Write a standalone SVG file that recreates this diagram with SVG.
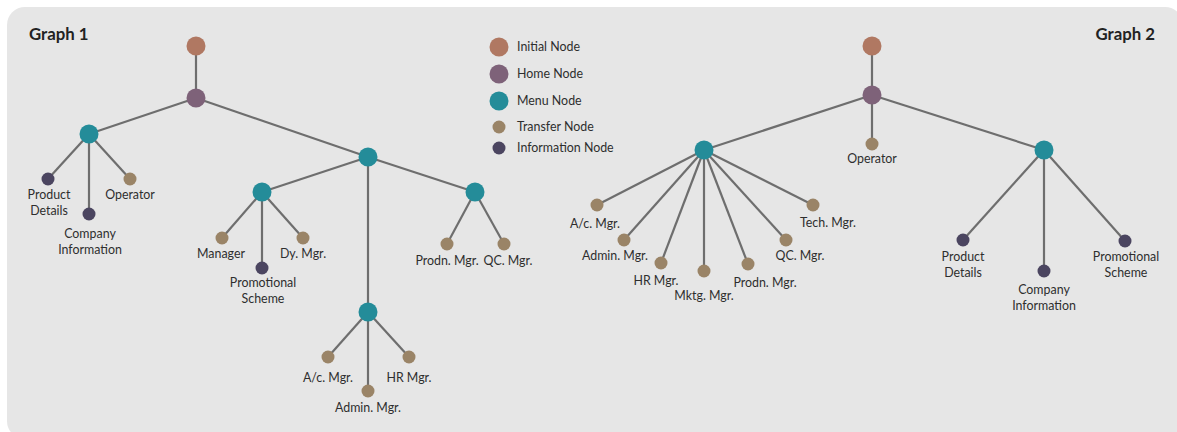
<svg xmlns="http://www.w3.org/2000/svg" width="1177" height="432" viewBox="0 0 1177 432">
<style>
.bg{fill:#e6e6e6}
.e{stroke:#6e6e6e;stroke-width:2.2;fill:none}
.ini{fill:#b07862}
.home{fill:#7e6279}
.menu{fill:#248c99}
.tr{fill:#9a8467}
.info{fill:#4b4560}
text{font-family:Lato,"Noto Sans",sans-serif;font-size:12.4px;fill:#2e2e2e}
.c{text-anchor:middle}
.title{font-size:16.8px;font-weight:bold;fill:#222}
</style>
<rect class="bg" x="7" y="7" width="1176" height="432" rx="18"/>
<text class="title" x="29" y="40">Graph 1</text>
<text class="title" x="1155" y="40" text-anchor="end">Graph 2</text>
<g id="connectors">
<line class="e" x1="196" y1="46" x2="196" y2="98"/>
<line class="e" x1="196" y1="98" x2="89" y2="134"/>
<line class="e" x1="196" y1="98" x2="368" y2="157"/>
<line class="e" x1="89" y1="134" x2="48" y2="179"/>
<line class="e" x1="89" y1="134" x2="89" y2="214"/>
<line class="e" x1="89" y1="134" x2="130" y2="179"/>
<line class="e" x1="368" y1="157" x2="262" y2="192"/>
<line class="e" x1="368" y1="157" x2="475" y2="192"/>
<line class="e" x1="368" y1="157" x2="368" y2="312"/>
<line class="e" x1="262" y1="192" x2="222" y2="238"/>
<line class="e" x1="262" y1="192" x2="262" y2="268"/>
<line class="e" x1="262" y1="192" x2="303" y2="238"/>
<line class="e" x1="475" y1="192" x2="447" y2="244"/>
<line class="e" x1="475" y1="192" x2="504" y2="244"/>
<line class="e" x1="368" y1="312" x2="328" y2="357"/>
<line class="e" x1="368" y1="312" x2="368" y2="391"/>
<line class="e" x1="368" y1="312" x2="409" y2="357"/>
<line class="e" x1="872" y1="46" x2="872" y2="95"/>
<line class="e" x1="872" y1="95" x2="872" y2="144"/>
<line class="e" x1="872" y1="95" x2="704" y2="150"/>
<line class="e" x1="872" y1="95" x2="1044" y2="150"/>
<line class="e" x1="704" y1="150" x2="597" y2="205"/>
<line class="e" x1="704" y1="150" x2="624" y2="240"/>
<line class="e" x1="704" y1="150" x2="661" y2="263"/>
<line class="e" x1="704" y1="150" x2="704" y2="271"/>
<line class="e" x1="704" y1="150" x2="748" y2="264"/>
<line class="e" x1="704" y1="150" x2="786" y2="240"/>
<line class="e" x1="704" y1="150" x2="813" y2="205"/>
<line class="e" x1="1044" y1="150" x2="963" y2="240"/>
<line class="e" x1="1044" y1="150" x2="1044" y2="271"/>
<line class="e" x1="1044" y1="150" x2="1125" y2="241"/>
</g>
<g id="legend">
<circle class="ini" cx="499" cy="47" r="9.5"/><text x="517" y="51">Initial Node</text>
<circle class="home" cx="499" cy="74" r="9.5"/><text x="517" y="78">Home Node</text>
<circle class="menu" cx="499" cy="101" r="9.5"/><text x="517" y="105">Menu Node</text>
<circle class="tr" cx="499" cy="127" r="6.5"/><text x="517" y="131">Transfer Node</text>
<circle class="info" cx="499" cy="148" r="6.5"/><text x="517" y="152">Information Node</text>
</g>
<g id="g1-initial"><circle class="ini" cx="196" cy="46" r="9.5"/></g>
<g id="g1-home"><circle class="home" cx="196" cy="98" r="9.5"/></g>
<g id="g1-menu1"><circle class="menu" cx="89" cy="134" r="9.5"/></g>
<g id="g1-product"><circle class="info" cx="48" cy="179" r="6.5"/><text class="c" x="49" y="199">Product</text><text class="c" x="49" y="215">Details</text></g>
<g id="g1-company"><circle class="info" cx="89" cy="214" r="6.5"/><text class="c" x="90" y="238">Company</text><text class="c" x="90" y="254">Information</text></g>
<g id="g1-operator"><circle class="tr" cx="130" cy="179" r="6.5"/><text class="c" x="130" y="199">Operator</text></g>
<g id="g1-menu2"><circle class="menu" cx="368" cy="157" r="9.5"/></g>
<g id="g1-menu3"><circle class="menu" cx="262" cy="192" r="9.5"/></g>
<g id="g1-manager"><circle class="tr" cx="222" cy="238" r="6.5"/><text class="c" x="221" y="258">Manager</text></g>
<g id="g1-promo"><circle class="info" cx="262" cy="268" r="6.5"/><text class="c" x="263" y="287">Promotional</text><text class="c" x="263" y="303">Scheme</text></g>
<g id="g1-dymgr"><circle class="tr" cx="303" cy="238" r="6.5"/><text class="c" x="303" y="258">Dy. Mgr.</text></g>
<g id="g1-menu4"><circle class="menu" cx="475" cy="192" r="9.5"/></g>
<g id="g1-prodn"><circle class="tr" cx="447" cy="244" r="6.5"/><text class="c" x="447" y="265">Prodn. Mgr.</text></g>
<g id="g1-qc"><circle class="tr" cx="504" cy="244" r="6.5"/><text class="c" x="508" y="265">QC. Mgr.</text></g>
<g id="g1-menu5"><circle class="menu" cx="368" cy="312" r="9.5"/></g>
<g id="g1-ac"><circle class="tr" cx="328" cy="357" r="6.5"/><text class="c" x="328" y="382">A/c. Mgr.</text></g>
<g id="g1-admin"><circle class="tr" cx="368" cy="391" r="6.5"/><text class="c" x="368" y="412">Admin. Mgr.</text></g>
<g id="g1-hr"><circle class="tr" cx="409" cy="357" r="6.5"/><text class="c" x="409" y="382">HR Mgr.</text></g>
<g id="g2-initial"><circle class="ini" cx="872" cy="46" r="9.5"/></g>
<g id="g2-home"><circle class="home" cx="872" cy="95" r="9.5"/></g>
<g id="g2-operator"><circle class="tr" cx="872" cy="144" r="6.5"/><text class="c" x="872" y="163">Operator</text></g>
<g id="g2-menu1"><circle class="menu" cx="704" cy="150" r="9.5"/></g>
<g id="g2-ac"><circle class="tr" cx="597" cy="205" r="6.5"/><text class="c" x="595" y="228">A/c. Mgr.</text></g>
<g id="g2-admin"><circle class="tr" cx="624" cy="240" r="6.5"/><text class="c" x="615" y="260">Admin. Mgr.</text></g>
<g id="g2-hr"><circle class="tr" cx="661" cy="263" r="6.5"/><text class="c" x="656" y="285">HR Mgr.</text></g>
<g id="g2-mktg"><circle class="tr" cx="704" cy="271" r="6.5"/><text class="c" x="704" y="300">Mktg. Mgr.</text></g>
<g id="g2-prodn"><circle class="tr" cx="748" cy="264" r="6.5"/><text class="c" x="765" y="287">Prodn. Mgr.</text></g>
<g id="g2-qc"><circle class="tr" cx="786" cy="240" r="6.5"/><text class="c" x="800" y="260">QC. Mgr.</text></g>
<g id="g2-tech"><circle class="tr" cx="813" cy="205" r="6.5"/><text class="c" x="828" y="227">Tech. Mgr.</text></g>
<g id="g2-menu2"><circle class="menu" cx="1044" cy="150" r="9.5"/></g>
<g id="g2-product"><circle class="info" cx="963" cy="240" r="6.5"/><text class="c" x="963" y="261">Product</text><text class="c" x="963" y="277">Details</text></g>
<g id="g2-company"><circle class="info" cx="1044" cy="271" r="6.5"/><text class="c" x="1044" y="294">Company</text><text class="c" x="1044" y="310">Information</text></g>
<g id="g2-promo"><circle class="info" cx="1125" cy="241" r="6.5"/><text class="c" x="1126" y="261">Promotional</text><text class="c" x="1126" y="277">Scheme</text></g>
</svg>
